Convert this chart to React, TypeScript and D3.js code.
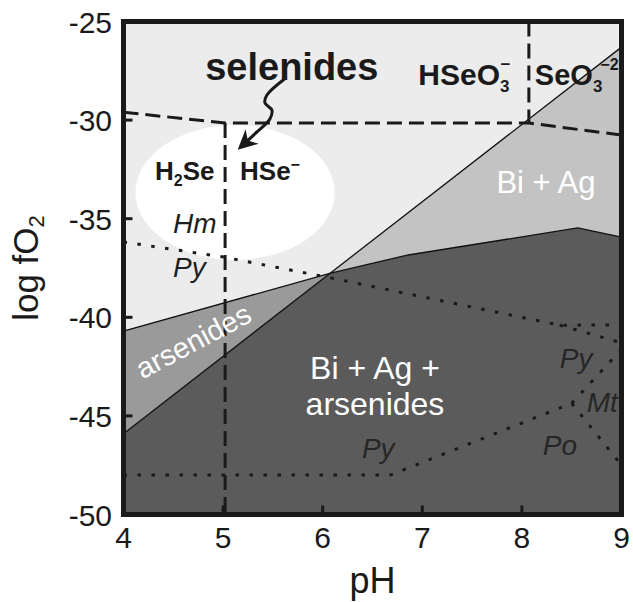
import * as d3 from "d3";

type Pt = [number, number];

const phTicks = [4, 5, 6, 7, 8, 9];
const fo2Ticks = [-25, -30, -35, -40, -45, -50];

// solid field boundaries, [pH, log fO2]
const diagonalLine: Pt[] = [[4, -45.9], [9, -26.3]];
const arsenideTop: Pt[] = [[4, -40.7], [6.08, -37.76]];
const darkTop: Pt[] = [[6.08, -37.76], [6.86, -36.84], [8.56, -35.47], [9, -35.93]];

const biAgField: Pt[] = [[6.08, -37.76], [9, -26.3], [9, -35.93], [8.56, -35.47], [6.86, -36.84]];
const arsenideField: Pt[] = [[4, -40.7], [6.08, -37.76], [4, -45.9]];
const darkField: Pt[] = [[4, -45.9], [6.08, -37.76], [6.86, -36.84], [8.56, -35.47], [9, -35.93], [9, -50], [4, -50]];

// dotted mineral boundaries
const hmPy: Pt[] = [[4, -36.18], [5, -36.94], [6.08, -38.0], [8.38, -40.4], [9, -40.39]];
const pyBranch: Pt[] = [[8.38, -40.4], [9, -41.29]];
const pyMt: Pt[] = [[9, -41.62], [8.5, -44.36]];
const pyPo: Pt[] = [[4, -48.0], [6.68, -48.0], [8.5, -44.36]];
const mtPo: Pt[] = [[8.5, -44.36], [9, -47.5]];

// dashed selenium species boundaries
const seTop: Pt[] = [[4, -29.6], [5.02, -30.15], [8.07, -30.15], [9, -30.76]];
const h2seLine: Pt[] = [[5.02, -30.15], [5.02, -50]];
const hseo3Line: Pt[] = [[8.07, -25], [8.07, -30.15]];

// selenide field (white ellipse): center, radii
const selenideCenter: Pt = [5.12, -33.67];
const selenideRadius: Pt = [1.0, 3.42];

const arrowPath: Pt[] = [[5.62, -27.9], [5.44, -28.73], [5.42, -29.13], [5.49, -29.49], [5.47, -29.94], [5.34, -30.6], [5.19, -31.3]];

const W = 633;
const H = 602;
const x = d3.scaleLinear().domain([4, 9]).range([123.5, 621.5]);
const y = d3.scaleLinear().domain([-25, -50]).range([21.5, 514.5]);

const line = d3.line<Pt>().x((d) => x(d[0])).y((d) => y(d[1]));
const poly = (pts: Pt[]) => line(pts) + "Z";
const curve = d3.line<Pt>().x((d) => x(d[0])).y((d) => y(d[1])).curve(d3.curveCatmullRom);

const font = "'Liberation Sans', Arial, sans-serif";
const ink = "#1a1a1a";

export default function App() {
  const dotted = { fill: "none", stroke: ink, strokeWidth: 3, strokeDasharray: "3.5,10.5" };
  const dashed = { fill: "none", stroke: ink, strokeWidth: 3, strokeDasharray: "15,7" };
  const solid = { fill: "none", stroke: "#111", strokeWidth: 1.3 };
  const italic = { fontFamily: font, fontStyle: "italic", fontSize: 28, fill: "#1e1e1e" };
  const white = { fontFamily: font, fontSize: 31, fill: "#fff" };
  const bold = { fontFamily: font, fontWeight: 700, fill: ink };

  return (
    <svg width={W} height={H} style={{ position: "absolute", left: 0, top: 0, background: "#fff" }}>
      <defs>
        <clipPath id="plot">
          <rect x={x(4)} y={y(-25)} width={x(9) - x(4)} height={y(-50) - y(-25)} />
        </clipPath>
        <marker id="head" viewBox="0 0 10 10" refX="7" refY="5" markerWidth="6.5" markerHeight="6.5" orient="auto" markerUnits="strokeWidth">
          <path d="M0,0 L10,5 L0,10 L3,5 Z" fill={ink} />
        </marker>
      </defs>

      <g clipPath="url(#plot)">
        <rect x={x(4)} y={y(-25)} width={x(9) - x(4)} height={y(-50) - y(-25)} fill="#ececec" />
        <ellipse
          cx={x(selenideCenter[0])}
          cy={y(selenideCenter[1])}
          rx={x(4 + selenideRadius[0]) - x(4)}
          ry={y(-25 - selenideRadius[1]) - y(-25)}
          fill="#fff"
        />
        <path d={poly(biAgField)} fill="#c3c3c3" />
        <path d={poly(arsenideField)} fill="#9a9a9a" />
        <path d={poly(darkField)} fill="#5b5b5b" />

        <path d={line(diagonalLine)!} {...solid} />
        <path d={line(arsenideTop)!} {...solid} />
        <path d={line(darkTop)!} {...solid} />

        {[hmPy, pyBranch, pyMt, pyPo, mtPo].map((pts, i) => (
          <path key={"dot" + i} d={line(pts)!} {...dotted} />
        ))}
        {[seTop, h2seLine, hseo3Line].map((pts, i) => (
          <path key={"dash" + i} d={line(pts)!} {...dashed} />
        ))}
      </g>

      {/* field labels */}
      <text x={x(4.82)} y={y(-27.97)} fontSize={38} {...bold}>selenides</text>
      <path d={curve(arrowPath)!} fill="none" stroke={ink} strokeWidth={3} markerEnd="url(#head)" />

      <text x={x(4.316)} y={y(-33.04)} fontSize={26} {...bold}>
        H<tspan fontSize={16} dy={6}>2</tspan><tspan dy={-6}>Se</tspan>
      </text>
      <text x={x(5.17)} y={y(-33.04)} fontSize={26} {...bold}>
        HSe<tspan fontSize={16} dy={-10}>−</tspan>
      </text>
      <text x={x(6.96)} y={y(-28.22)} fontSize={30} {...bold}>
        HSeO<tspan fontSize={17} dy={7}>3</tspan><tspan fontSize={17} dx={-9} dy={-22}>−</tspan>
      </text>
      <text x={x(8.13)} y={y(-28.22)} fontSize={29} {...bold}>
        SeO<tspan fontSize={17} dy={7}>3</tspan><tspan fontSize={16} dx={-2} dy={-22}>−2</tspan>
      </text>

      <text x={x(8.242)} y={y(-33.7)} textAnchor="middle" {...white}>Bi + Ag</text>
      <text x={x(6.525)} y={y(-43.13)} textAnchor="middle" {...white} fontSize={32}>Bi + Ag +</text>
      <text x={x(6.525)} y={y(-44.96)} textAnchor="middle" {...white} fontSize={32}>arsenides</text>
      <text
        transform={`translate(${x(4.748)},${y(-41.66)}) rotate(-28)`}
        textAnchor="middle"
        {...white}
        fontSize={29}
      >
        arsenides
      </text>

      <text x={x(4.497)} y={y(-35.72)} {...italic}>Hm</text>
      <text x={x(4.497)} y={y(-37.95)} {...italic}>Py</text>
      <text x={x(8.38)} y={y(-42.57)} {...italic} fill="#262626">Py</text>
      <text x={x(8.65)} y={y(-44.8)} {...italic} fill="#262626">Mt</text>
      <text x={x(8.21)} y={y(-46.98)} {...italic} fill="#262626">Po</text>
      <text x={x(6.394)} y={y(-47.14)} {...italic} fill="#262626">Py</text>

      {/* frame and ticks */}
      <rect
        x={x(4)}
        y={y(-25)}
        width={x(9) - x(4)}
        height={y(-50) - y(-25)}
        fill="none"
        stroke={ink}
        strokeWidth={5}
      />
      {phTicks.slice(1, -1).map((t) => (
        <line key={"xt" + t} x1={x(t)} x2={x(t)} y1={y(-50)} y2={y(-50) - 9} stroke={ink} strokeWidth={3} />
      ))}
      {fo2Ticks.slice(1, -1).map((t) => (
        <line key={"yt" + t} x1={x(4)} x2={x(4) + 9} y1={y(t)} y2={y(t)} stroke={ink} strokeWidth={3} />
      ))}
      {phTicks.map((t) => (
        <text key={"xl" + t} x={x(t)} y={548} textAnchor="middle" fontFamily={font} fontSize={30} fill={ink}>
          {t}
        </text>
      ))}
      {fo2Ticks.map((t) => (
        <text key={"yl" + t} x={112} y={y(t) + 11} textAnchor="end" fontFamily={font} fontSize={30} fill={ink}>
          {t}
        </text>
      ))}

      <text x={(x(4) + x(9)) / 2} y={593} textAnchor="middle" fontFamily={font} fontSize={36} fill={ink}>
        pH
      </text>
      <text
        transform={`translate(38,${(y(-25) + y(-50)) / 2}) rotate(-90)`}
        textAnchor="middle"
        fontFamily={font}
        fontSize={35}
        fill={ink}
      >
        log fO<tspan fontSize={22} dy={6}>2</tspan>
      </text>
    </svg>
  );
}
